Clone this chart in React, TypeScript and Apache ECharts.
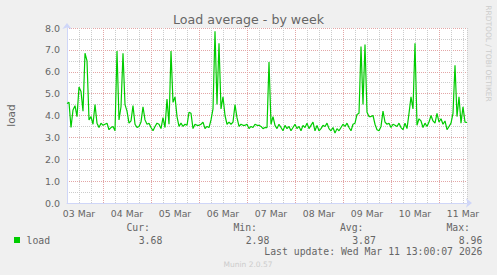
import React, { useEffect, useRef } from 'react';
import * as echarts from 'echarts';

// hourly samples, starting 03 Mar 06:00
const loadValues: number[] = [
  4.55, 4.6, 3.45, 4.25, 4.45, 3.95, 5.3, 5.1, 4.2, 6.85,
  6.5, 3.8, 3.95, 3.6, 4.5, 3.65, 3.45, 3.65, 3.55, 3.6,
  3.65, 3.35, 3.45, 3.5, 3.3, 6.95, 3.8, 4.4, 6.85, 4.5,
  4.2, 3.65, 3.75, 4.45, 3.6, 3.45, 3.5, 3.7, 4.4, 3.8,
  3.6, 3.65, 3.45, 3.3, 3.5, 3.65, 3.6, 3.4, 3.9, 3.45,
  4.75, 3.6, 6.95, 4.6, 4.85, 3.95, 3.5, 3.65, 3.5, 3.6,
  3.55, 4.15, 4.1, 3.4, 3.6, 3.55, 3.55, 3.6, 3.7, 3.4,
  3.5, 3.45, 3.8, 4.3, 7.85, 4.5, 7.3, 4.3, 4.85, 4.0,
  3.6, 3.7, 3.6, 3.7, 4.5, 3.9, 3.5, 3.6, 3.55, 3.55,
  3.6, 3.4, 3.5, 3.45, 3.6, 3.55, 3.55, 3.5, 3.4, 3.45,
  3.45, 6.45, 3.6, 3.95, 3.55, 3.4, 3.6, 3.45, 3.3, 3.55,
  3.4, 3.5, 3.3, 3.45, 3.6, 3.4, 3.5, 3.3, 3.55, 3.45,
  3.65, 3.4, 3.55, 3.7, 3.3, 3.55, 3.3, 3.4, 3.55, 3.5,
  3.65, 3.4, 3.3, 3.45, 3.2, 3.4, 3.3, 3.45, 3.6, 3.5,
  3.65, 3.45, 3.3, 3.6, 3.65, 4.05, 4.1, 7.15, 4.5, 7.25,
  4.15, 3.95, 3.95, 4.0, 3.6, 3.35, 3.3, 3.5, 4.2, 3.7,
  3.6, 3.65, 3.45, 3.6, 3.55, 3.5, 3.65, 3.45, 3.35, 3.65,
  3.4, 4.1, 4.85, 4.3, 7.3, 3.55, 3.85, 3.75, 3.45, 3.65,
  3.5, 3.7, 4.0, 3.75, 3.65, 4.1, 3.7, 3.85, 3.6, 3.75,
  3.35, 3.5, 3.65, 4.1, 6.3, 3.95, 4.85, 3.65, 4.4, 3.7,
  3.68,
];

const dayLabels = ['03 Mar', '04 Mar', '05 Mar', '06 Mar', '07 Mar', '08 Mar', '09 Mar', '10 Mar', '11 Mar'];
const statLabels = ['Cur:', 'Min:', 'Avg:', 'Max:'];
const statValues = ['3.68', '2.98', '3.87', '8.96'];
const seriesName = 'load';
const titleText = 'Load average - by week';
const lastUpdate = 'Last update: Wed Mar 11 13:00:07 2026';
const footer = 'Munin 2.0.57';
const sideText = 'RRDTOOL / TOBI OETIKER';

const GRID = '#cccccc';
const MGRID = '#e3a6a6';
const FONT = '#666666';
const MONO = '"DejaVu Sans Mono", monospace';
const SANS = '"DejaVu Sans", sans-serif';

export default function App() {
  const ref = useRef<HTMLDivElement>(null);
  useEffect(() => {
    if (!ref.current) return;
    const chart = echarts.init(ref.current, undefined, { renderer: 'svg' });
    const statX = [150, 257, 363.5, 470];
    const graphics: any[] = [
      { type: 'text', x: 248.5, y: 19, style: { text: titleText, fill: FONT, font: `12.6px ${SANS}`, textAlign: 'center', textVerticalAlign: 'middle' } },
      { type: 'text', x: 11, y: 115.5, rotation: Math.PI / 2, style: { text: 'load', fill: FONT, font: `10.5px ${SANS}`, textAlign: 'center', textVerticalAlign: 'middle' } },
      { type: 'text', x: 488.5, y: 53.5, rotation: -Math.PI / 2, style: { text: sideText, fill: '#cccccc', font: `7.5px ${SANS}`, textAlign: 'center', textVerticalAlign: 'middle' } },
      { type: 'rect', shape: { x: 14, y: 237, width: 6, height: 6 }, style: { fill: '#00CC00' } },
      { type: 'text', x: 26.5, y: 240, style: { text: seriesName, fill: FONT, font: `9.8px ${MONO}`, textAlign: 'left', textVerticalAlign: 'middle' } },
      { type: 'text', x: 482.5, y: 251.5, style: { text: lastUpdate, fill: FONT, font: `9.8px ${MONO}`, textAlign: 'right', textVerticalAlign: 'middle' } },
      { type: 'text', x: 248, y: 264.5, style: { text: footer, fill: '#cccccc', font: `7.5px ${SANS}`, textAlign: 'center', textVerticalAlign: 'middle' } },
    ];
    statLabels.forEach((l, i) => {
      graphics.push({ type: 'text', x: statX[i], y: 227.5, style: { text: l, fill: FONT, font: `9.8px ${MONO}`, textAlign: 'right', textVerticalAlign: 'middle' } });
      graphics.push({ type: 'text', x: statX[i] + 12.3, y: 240, style: { text: statValues[i], fill: FONT, font: `9.8px ${MONO}`, textAlign: 'right', textVerticalAlign: 'middle' } });
    });

    chart.setOption({
      animation: false,
      backgroundColor: '#F0F0F0',
      grid: { left: 67, top: 28, width: 400, height: 175, show: true, backgroundColor: '#ffffff', borderWidth: 0 },
      xAxis: {
        type: 'value',
        min: 0,
        max: loadValues.length - 1,
        interval: 6,
        axisLine: { show: true, onZero: false, lineStyle: { color: '#CFD6F8', width: 1 }, symbol: ['none', 'arrow'], symbolSize: [7, 6], symbolOffset: [0, 5] },
        axisTick: { show: false },
        axisLabel: {
          color: FONT, fontSize: 9.3, fontFamily: SANS, margin: 6,
          formatter: (v: number) => ((v - 6) % 24 === 0 ? dayLabels[(v - 6) / 24] ?? '' : ''),
        },
        splitLine: { show: true, lineStyle: { color: [GRID, GRID, GRID, MGRID], type: [1, 1], width: 1 } },
      },
      yAxis: {
        type: 'value',
        min: 0,
        max: 8,
        interval: 0.5,
        axisLine: { show: true, lineStyle: { color: '#CFD6F8', width: 1 }, symbol: ['none', 'arrow'], symbolSize: [7, 6], symbolOffset: [0, 5] },
        axisTick: { show: false },
        axisLabel: {
          color: FONT, fontSize: 9.5, fontFamily: SANS, margin: 7,
          formatter: (v: number) => (Number.isInteger(v) ? v.toFixed(1) : ''),
        },
        splitLine: { show: true, lineStyle: { color: [MGRID, GRID], type: [1, 1], width: 1 } },
      },
      series: [
        {
          name: seriesName,
          type: 'line',
          data: loadValues.map((v, i) => [i, v]),
          showSymbol: false,
          lineStyle: { color: '#00CC00', width: 1.2 },
          z: 5,
        },
      ],
      graphic: graphics,
    });
    return () => chart.dispose();
  }, []);
  return <div ref={ref} style={{ position: 'fixed', left: 0, top: 0, width: 497, height: 275 }} />;
}
